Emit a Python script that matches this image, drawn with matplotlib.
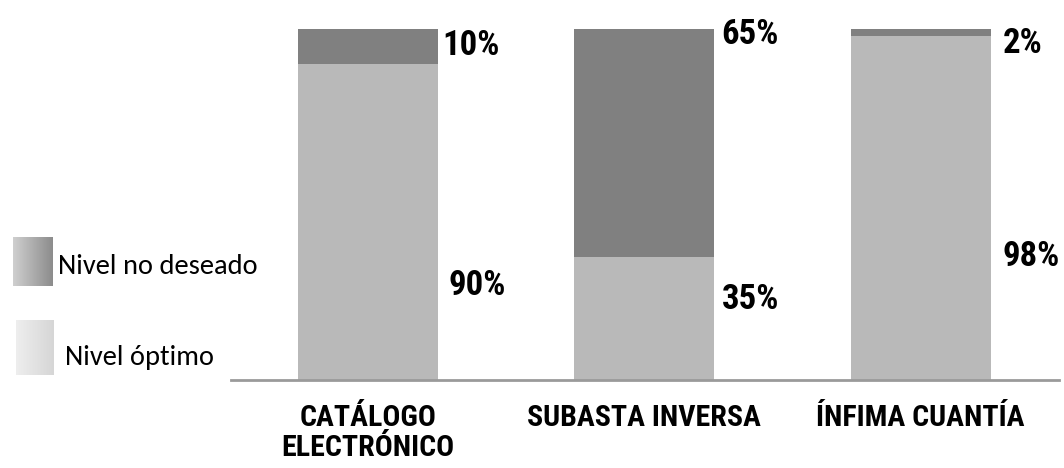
import numpy as np
import matplotlib
matplotlib.use("Agg")
import matplotlib.pyplot as plt

# Data
categories = ["CATÁLOGO\nELECTRÓNICO", "SUBASTA INVERSA", "ÍNFIMA CUANTÍA"]
optimo = [90, 35, 98]          # Nivel óptimo (%)
no_deseado = [10, 65, 2]       # Nivel no deseado (%)
legend_labels = ["Nivel no deseado", "Nivel óptimo"]

# Styling
COL_LIGHT = "#b9b9b9"
COL_DARK = "#808080"
NARROW = ["Roboto Condensed", "DejaVu Sans"]
LEGEND_FONT = ["Carlito", "DejaVu Sans"]

W, H, DPI = 1064, 468, 100
fig = plt.figure(figsize=(W / DPI, H / DPI), dpi=DPI)

def fx(px):
    return px / W

def fy(py):
    return 1 - py / H

# Main axes: baseline at y=380 px, 100 % at y=29 px
ax = fig.add_axes([fx(231), fy(380), fx(1059 - 231), (380 - 29) / H])
x = np.arange(len(categories))
width = 0.507
ax.bar(x, optimo, width=width, color=COL_LIGHT, linewidth=0)
ax.bar(x, no_deseado, width=width, bottom=optimo, color=COL_DARK, linewidth=0)
ax.set_xlim(-0.496, 2.501)
ax.set_ylim(0, 100)

for s in ["top", "right", "left"]:
    ax.spines[s].set_visible(False)
ax.spines["bottom"].set_color("#9a9a9a")
ax.spines["bottom"].set_linewidth(2)
ax.set_yticks([])
ax.set_xticks(x)
ax.set_xticklabels(categories, family=NARROW, fontweight="bold", fontsize=21.5,
                   linespacing=1.1)
ax.tick_params(axis="x", length=0, pad=17)

# Value labels placed to the right of each bar
top_label_y = [95.2, 98.3, 96.0]
bottom_label_y = [26.8, 22.8, 35.3]
top_dx = [4, 7, 12]
bottom_dx = [10, 8, 12]
for i in range(len(categories)):
    xr = x[i] + width / 2
    ax.annotate(f"{no_deseado[i]}%", (xr, top_label_y[i]), xytext=(top_dx[i], 0),
                textcoords="offset pixels", va="center", ha="left",
                family=NARROW, fontweight="bold", fontsize=25, color="black")
    ax.annotate(f"{optimo[i]}%", (xr, bottom_label_y[i]), xytext=(bottom_dx[i], 0),
                textcoords="offset pixels", va="center", ha="left",
                family=NARROW, fontweight="bold", fontsize=25, color="black")

# Legend swatches with a soft horizontal gradient
def swatch(x0, y0, x1, y1, c_left, c_right):
    sax = fig.add_axes([fx(x0), fy(y1), fx(x1 - x0), (y1 - y0) / H])
    t = np.linspace(0, 1, 64)
    cl = np.array(matplotlib.colors.to_rgb(c_left))
    cr = np.array(matplotlib.colors.to_rgb(c_right))
    grad = (cl[None, :] * (1 - t[:, None]) + cr[None, :] * t[:, None])[None, :, :]
    sax.imshow(grad, aspect="auto", extent=[0, 1, 0, 1])
    sax.axis("off")

swatch(13, 237, 53, 286, "#cfcfcf", "#8c8c8c")
swatch(16, 320, 54, 375, "#eeeeee", "#d6d6d6")

fig.text(fx(58), fy(266), legend_labels[0], family=LEGEND_FONT, fontsize=20.5,
         va="center", ha="left", color="black")
fig.text(fx(65), fy(357), legend_labels[1], family=LEGEND_FONT, fontsize=20.5,
         va="center", ha="left", color="black")

fig.savefig("out.png", dpi=DPI, facecolor="white")
